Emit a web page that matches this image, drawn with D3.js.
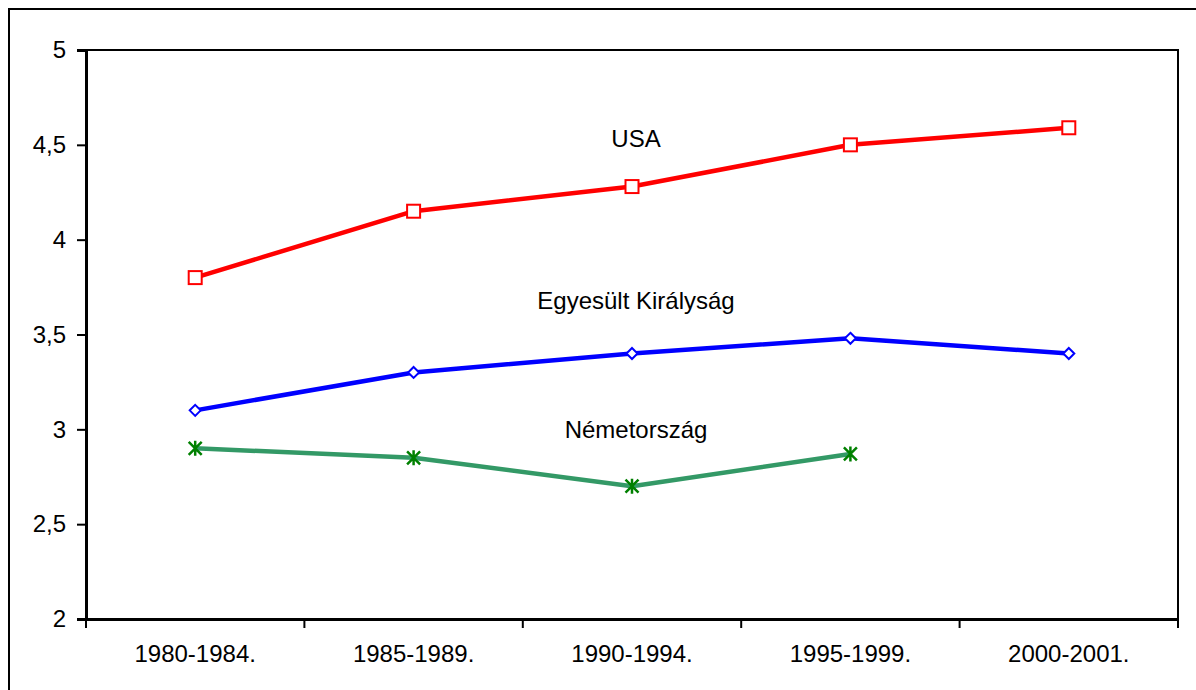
<!DOCTYPE html>
<html>
<head>
<meta charset="utf-8">
<script src="https://cdn.jsdelivr.net/npm/d3@7"></script>
<style>
  body { margin: 0; background: #fff; }
  text { font-family: Arial, "Liberation Sans", sans-serif; fill: #000; }
</style>
</head>
<body>
<div class="chart"></div>
<script>
// data
const periods = ['1980-1984.', '1985-1989.', '1990-1994.', '1995-1999.', '2000-2001.']
const usa = [3.8, 4.15, 4.28, 4.5, 4.59]
const uk = [3.1, 3.3, 3.4, 3.48, 3.4]
const germany = [2.9, 2.85, 2.7, 2.87, null]
const yTicks = [2, 2.5, 3, 3.5, 4, 4.5, 5]
const seriesLabels = [
  { name: 'USA', value: 4.52, at: 2 },
  { name: 'Egyesült Királyság', value: 3.67, at: 2 },
  { name: 'Németország', value: 2.99, at: 2 }
]

const width = 1196, height = 690
const font = "Arial, 'Liberation Sans', sans-serif"
const svg = d3.select(".chart").append("svg")
  .attr("width", width)
  .attr("height", height)

// outer frame
svg.append("rect")
  .attr("x", 9).attr("y", 9)
  .attr("width", 1200).attr("height", 700)
  .attr("fill", "none").attr("stroke", "#000").attr("stroke-width", 2)

const plot = { left: 86, right: 1178, top: 50, bottom: 619 }

const x = d3.scaleBand().domain(periods).range([plot.left, plot.right])
const y = d3.scaleLinear().domain([2, 5]).range([plot.bottom, plot.top])

// plot area border (top/right)
svg.append("path")
  .attr("d", `M${plot.left},${plot.top}H${plot.right}V${plot.bottom}`)
  .attr("fill", "none").attr("stroke", "#000").attr("stroke-width", 2)

const fmt = d => String(d).replace('.', ',')

const yAxis = svg.append("g")
  .attr("transform", `translate(${plot.left},0)`)
  .call(d3.axisLeft(y).tickValues(yTicks).tickFormat(fmt).tickSize(9).tickPadding(11))
yAxis.select(".domain").attr("stroke-width", 3)
yAxis.selectAll(".tick line").attr("stroke-width", 2)
yAxis.selectAll("text").attr("font-size", 24).attr("font-family", font)

const xAxis = svg.append("g")
  .attr("transform", `translate(0,${plot.bottom})`)
  .call(d3.axisBottom(x).tickSize(0).tickPadding(26))
xAxis.select(".domain").attr("stroke-width", 3)
xAxis.selectAll("text").attr("font-size", 24).attr("font-family", font)

// boundary tick marks between categories
const bounds = periods.map(p => x(p)).concat([plot.right])
svg.append("g").selectAll("line")
  .data(bounds)
  .join("line")
    .attr("x1", d => d).attr("x2", d => d)
    .attr("y1", plot.bottom).attr("y2", plot.bottom + 9)
    .attr("stroke", "#000").attr("stroke-width", 2)

const cx = i => x(periods[i]) + x.bandwidth() / 2

function drawLine(values, color) {
  const line = d3.line()
    .defined(d => d != null)
    .x((d, i) => cx(i))
    .y(d => y(d))
  svg.append("path")
    .datum(values)
    .attr("d", line)
    .attr("fill", "none")
    .attr("stroke", color)
    .attr("stroke-width", 4.5)
    .attr("stroke-linejoin", "round")
}

drawLine(usa, "#ff0000")
drawLine(uk, "#0000ff")
drawLine(germany, "#339966")

// USA squares
svg.append("g").selectAll("rect")
  .data(usa.map((v, i) => ({ v, i })))
  .join("rect")
    .attr("x", d => cx(d.i) - 6.5)
    .attr("y", d => y(d.v) - 6.5)
    .attr("width", 13).attr("height", 13)
    .attr("fill", "#fff").attr("stroke", "#ff0000").attr("stroke-width", 2)

// UK diamonds
svg.append("g").selectAll("path")
  .data(uk.map((v, i) => ({ v, i })))
  .join("path")
    .attr("d", d => {
      const px = cx(d.i), py = y(d.v), r = 5.5
      return `M${px},${py - r}L${px + r},${py}L${px},${py + r}L${px - r},${py}Z`
    })
    .attr("fill", "#fff").attr("stroke", "#0000ff").attr("stroke-width", 2)

// Germany asterisks
svg.append("g").selectAll("path")
  .data(germany.map((v, i) => ({ v, i })).filter(d => d.v != null))
  .join("path")
    .attr("d", d => {
      const px = cx(d.i), py = y(d.v), r = 6.5
      return `M${px - r},${py - r}L${px + r},${py + r}M${px + r},${py - r}L${px - r},${py + r}M${px},${py - r - 1}V${py + r + 1}`
    })
    .attr("fill", "none").attr("stroke", "#008000").attr("stroke-width", 2.5)

// series labels
svg.append("g").selectAll("text")
  .data(seriesLabels)
  .join("text")
    .attr("x", d => cx(d.at) + 4)
    .attr("y", d => y(d.value))
    .attr("text-anchor", "middle")
    .attr("dominant-baseline", "middle")
    .attr("font-size", 24)
    .text(d => d.name)
</script>
</body>
</html>
